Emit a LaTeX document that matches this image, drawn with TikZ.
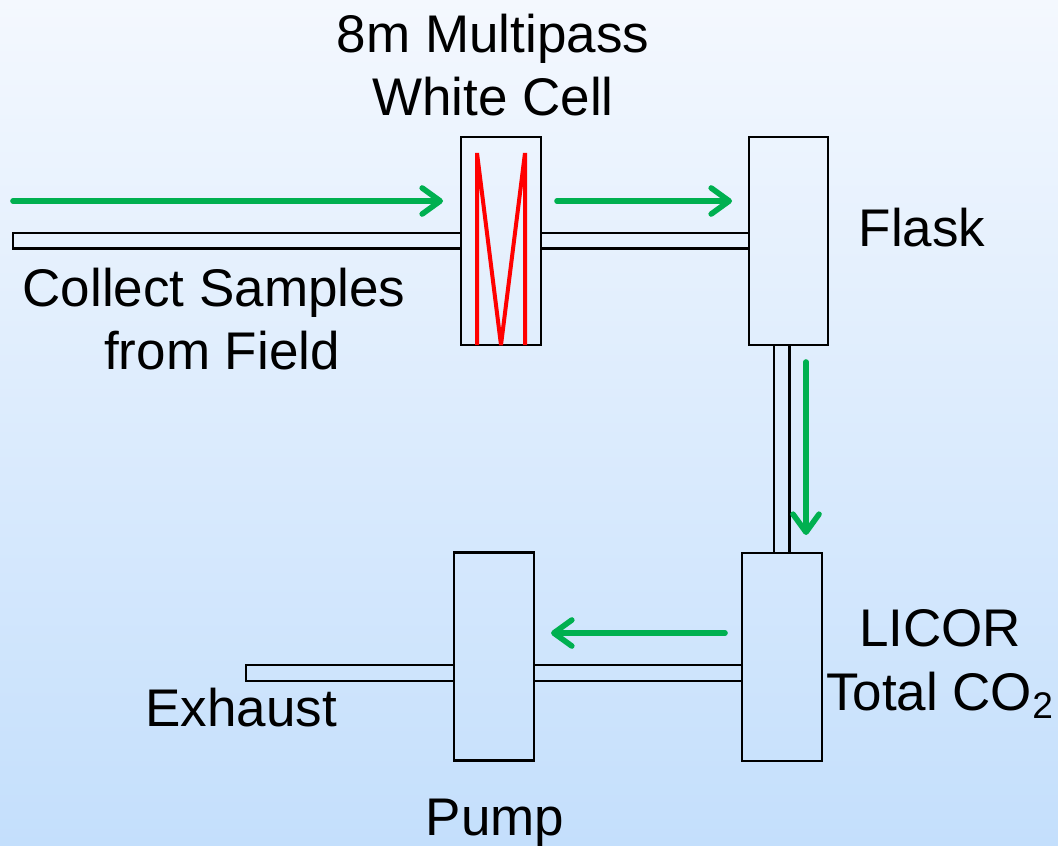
\documentclass[tikz,border=0pt]{standalone}
\usepackage{fontspec}
\setmainfont{Liberation Sans}
\usetikzlibrary{arrows.meta}
\definecolor{bgtop}{RGB}{244,248,254}
\definecolor{bgbot}{RGB}{196,223,252}
\definecolor{flowgreen}{RGB}{0,176,80}
\definecolor{zigred}{RGB}{255,0,0}
\tikzset{
  unitbox/.style={draw=black, line width=1.1pt, rectangle, inner sep=0pt, outer sep=0pt},
  pipe/.style={draw=black, line width=1.1pt},
  flow/.style={draw=flowgreen, line width=2.8pt, line cap=round,
    -{Straight Barb[length=9pt,width=13pt,round]}},
  zig/.style={draw=zigred, line width=2pt, line join=miter, miter limit=3},
  lbl/.style={anchor=base, inner sep=0pt, font=\fontsize{26.5}{31.5}\selectfont}
}
\begin{document}
\begin{tikzpicture}[x=0.5pt,y=-0.5pt]
\useasboundingbox (0,0) rectangle (1058,845);
\shade[top color=bgtop, bottom color=bgbot] (0,0) rectangle (1058,845);
% pipes
\draw[pipe] (13,233) rectangle (461,248.5);
\draw[pipe] (541,233) rectangle (749,248.5);
\draw[pipe] (774,345) rectangle (789.5,553);
\draw[pipe] (534,665) rectangle (742,681);
\draw[pipe] (246,665) rectangle (454,681);
% boxes
\node[unitbox, minimum width=40pt, minimum height=104pt] (cell) at (501,241) {};
\node[unitbox, minimum width=39.5pt, minimum height=104pt] (flask) at (788.5,241) {};
\node[unitbox, minimum width=40pt, minimum height=104pt] (licor) at (782,657) {};
\node[unitbox, minimum width=40pt, minimum height=104pt] (pump) at (494,656.5) {};
% zigzag in white cell
\begin{scope}
\clip (cell.south west) rectangle (cell.north east);
\draw[zig] (477,345) -- (477,153) -- (501,345) -- (525,153) -- (525,345);
\end{scope}
% flow arrows
\coordinate (a1s) at (13,201);   \coordinate (a1e) at (443,201);
\coordinate (a2s) at (557,201);  \coordinate (a2e) at (732,201);
\coordinate (a3s) at (806,362);  \coordinate (a3e) at (806,535);
\coordinate (a4s) at (725,633);  \coordinate (a4e) at (551,633);
\draw[flow] (a1s) -- (a1e);
\draw[flow] (a2s) -- (a2e);
\draw[flow] (a3s) -- (a3e);
\draw[flow] (a4s) -- (a4e);
% labels
\node[lbl] (t1) at (493,53) {8m Multipass};
\node[lbl] (t2) at (493,116) {White Cell};
\node[lbl] (fl) at (922,246) {Flask};
\node[lbl] (c1) at (214,306) {Collect Samples};
\node[lbl] (c2) at (222,369) {from Field};
\node[lbl] (l1) at (940,646) {LICOR};
\node[lbl] (l2) at (940,710) {Total CO\textsubscript{2}};
\node[lbl] (ex) at (241,726) {Exhaust};
\node[lbl] (pu) at (495,835) {Pump};
\end{tikzpicture}
\end{document}
